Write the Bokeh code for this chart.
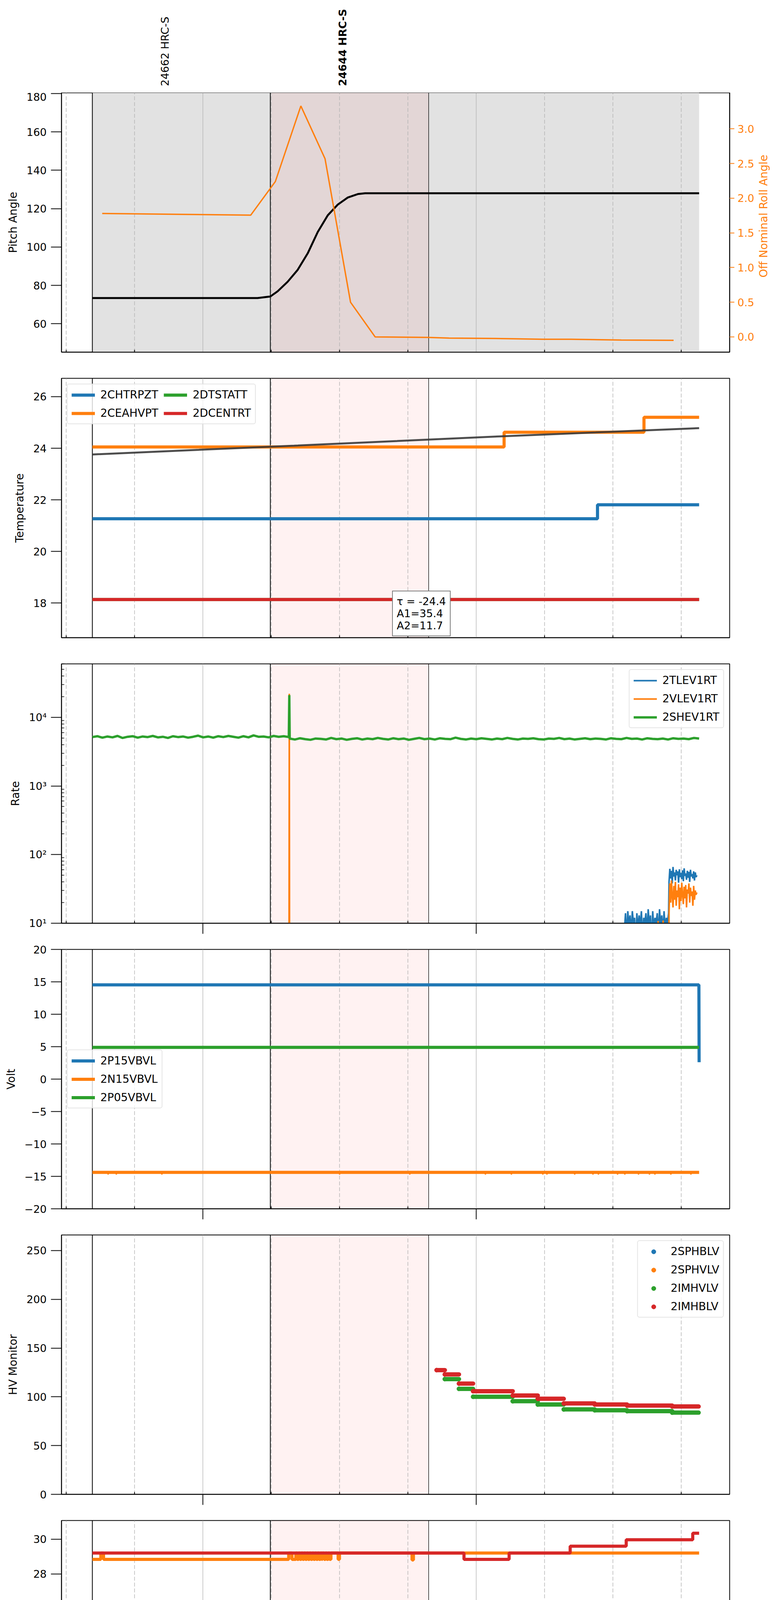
import math
import numpy as np
from bokeh.plotting import figure
from bokeh.layouts import column, row
from bokeh.models import (Range1d, LinearAxis, FixedTicker, BoxAnnotation, Span, PrintfTickFormatter,
                          Legend, LegendItem)
from bokeh.core.properties import value
from bokeh.embed import file_html
from bokeh.resources import INLINE

# time is in minutes after 2020-09-29 20:00
quarter_ticks = [30, 45, 75, 90, 105, 135, 150, 165]
quarter_labels = ["30", "45", "15", "30", "45", "15", "30", "45"]
hour_ticks = [60, 120]
hour_labels = ["21h", "22h"]
date_label = "2020-09-29 (273)"

t_first, t_last = 35.74, 168.9
obs_edges = [35.74, 74.8, 109.54]
obs_shade = [75.0, 109.54]
obs_names = ["24662 HRC-S", "24644 HRC-S"]
obs_pos = [51.7, 90.7]

# pitch / roll
pitch_t = [35.74, 72.0, 74.8, 76.4, 78.6, 80.8, 83.0, 85.2, 87.4, 89.6, 91.8, 94.0, 95.6, 168.9]
pitch = [73.4, 73.4, 74.2, 76.9, 81.9, 88.1, 96.7, 107.8, 116.5, 122.1, 125.8, 127.6, 128.0, 128.0]
roll_t = [37.9, 70.5, 75.9, 81.5, 86.8, 92.4, 97.8, 109.3, 114.0, 125.5, 134.6, 140.8, 151.8, 163.3]
roll = [1.78, 1.756, 2.24, 3.33, 2.57, 0.50, 0.0, -0.007, -0.017, -0.024, -0.034, -0.034, -0.045, -0.05]
pitch_ticks = [60, 80, 100, 120, 140, 160, 180]
roll_ticks = [0.0, 0.5, 1.0, 1.5, 2.0, 2.5, 3.0]
roll_label = "Off Nominal Roll Angle"

# temperature
temp_names = ["2CHTRPZT", "2CEAHVPT", "2DTSTATT", "2DCENTRT"]
chtrpzt_t = [35.74, 146.6, 168.9]
chtrpzt = [21.27, 21.81, 21.81]
ceahvpt_t = [35.74, 126.1, 156.8, 168.9]
ceahvpt = [24.05, 24.62, 25.2, 25.2]
dtstatt_t = [35.74, 168.9]
dtstatt = [18.14, 18.14]
dcentrt_t = [35.74, 168.9]
dcentrt = [18.14, 18.14]
fit_t = [35.74, 80.0, 125.0, 168.9]
fit = [23.76, 24.10, 24.46, 24.78]
fit_lines = ["\u03c4 = -24.4", "A1=35.4", "A2=11.7"]
temp_ticks = [18, 20, 22, 24, 26]

# rates
rate_names = ["2TLEV1RT", "2VLEV1RT", "2SHEV1RT"]
shev_pre = [5150, 5300, 5050, 5250, 5100, 5350, 5000, 5200, 5300, 5050, 5250, 5150, 5350, 5100, 5200, 5000,
            5300, 5150, 5250, 5050, 5200, 5400, 5100, 5250, 5050, 5300, 5150, 5350, 5200, 5050, 5300, 5100,
            5450, 5200, 5250, 5100, 5350, 5200, 5300, 5150]
shev_spike = 21000
shev_post = [4900, 4750, 4950, 4800, 4700, 4900, 4850, 4750, 5000, 4800, 4900, 4700, 4850, 4950, 4750, 4900,
             4800, 5000, 4850, 4750, 4950, 4800, 4900, 4700, 4850, 5000, 4800, 4900, 4750, 4950, 4850, 4800,
             5050, 4850, 4750, 4900, 4800, 4950, 4850, 4750, 4900, 4800, 5000, 4850, 4750, 4900, 4850, 4950,
             4800, 4750, 4900, 4850, 5000, 4800, 4900, 4750, 4850, 4950, 4800, 4900, 4850, 4750, 4950, 4850,
             4800, 5000, 4850, 4900, 4750, 4950, 4850, 4800, 4900, 4750, 4950, 4850, 4900, 4800, 5000, 4900]
tlev_low = [8, 14, 6, 15, 9, 13, 7, 15, 10, 12, 5, 14, 8, 13, 9, 15, 6, 12, 10, 14,
            7, 16, 9, 13, 5, 15, 8, 12, 10, 14, 6, 16, 9, 13, 7, 15, 8, 12, 10, 14]
tlev_high = [40, 62, 45, 58, 38, 66, 48, 55, 42, 60, 50, 57, 39, 61, 47, 54, 44, 59,
             41, 63, 49, 53, 43, 58, 46, 56, 40, 60, 48, 52, 45, 57, 42, 55, 47, 50]
vlev_t = [35.74, 78.9, 78.96, 79.02, 159.8, 159.9, 160.0, 160.9, 161.0, 161.1, 162.25]
vlev = [3, 3, 22000, 3, 3, 10.8, 3, 3, 11, 3, 3]
vlev_high = [14, 38, 20, 42, 25, 17, 35, 22, 40, 18, 30, 24, 37, 16, 33, 21, 39, 26,
             19, 34, 23, 36, 17, 31, 27, 38, 20, 33, 25, 29, 18, 35, 22, 30, 26, 28]
rate_ticks = [10, 100, 1000, 10000]
rate_tick_labels = ["10\u00b9", "10\u00b2", "10\u00b3", "10\u2074"]
rate_minor = [20, 30, 40, 50, 60, 70, 80, 90, 200, 300, 400, 500, 600, 700, 800, 900,
              2000, 3000, 4000, 5000, 6000, 7000, 8000, 9000, 20000, 30000, 40000, 50000, 60000]

# voltages
volt_names = ["2P15VBVL", "2N15VBVL", "2P05VBVL"]
p15_t = [35.74, 168.85, 168.9]
p15 = [14.53, 14.53, 2.6]
n15_t = [35.74, 168.9]
n15 = [-14.39, -14.39]
n15_dip_t = [39.2, 41.0, 51.0, 90.0, 105.4, 122.0, 127.7, 134.6, 135.5, 141.6, 145.6, 146.8,
             151.0, 152.6, 155.6, 158.0, 159.2, 162.7, 167.1]
n15_dip = -14.62
p05_t = [35.74, 168.9]
p05 = [4.9, 4.9]
volt_ticks = [-20, -15, -10, -5, 0, 5, 10, 15, 20]

# HV monitors (2SPHBLV and 2SPHVLV have no samples in view)
hv_names = ["2SPHBLV", "2SPHVLV", "2IMHVLV", "2IMHBLV"]
imhblv_t = [111.3, 113.1, 116.2, 119.3, 128.0, 133.5, 139.2, 146.0, 153.1, 163.0, 168.8]
imhblv = [127.4, 123.0, 113.6, 105.8, 101.4, 98.0, 93.2, 92.1, 91.0, 90.1]
imhvlv_t = [113.1, 116.2, 119.3, 128.0, 133.5, 139.2, 146.0, 153.1, 163.0, 168.8]
imhvlv = [118.2, 108.2, 100.1, 95.5, 92.1, 87.1, 86.2, 85.3, 83.8]
hv_ticks = [0, 50, 100, 150, 200, 250]

# detector temperatures
det_names = ["2SPINATM", "2SPHVATM", "2IMINATM", "2IMHVATM"]
spinatm_t = [35.74, 168.9]
spinatm = [17.63, 17.63]
sphvatm_t = [35.74, 37.6, 38.2, 78.83, 79.54, 80.4, 80.7, 81.0, 81.3, 81.6, 81.9, 82.2, 82.5, 82.8, 83.1,
             83.4, 83.7, 84.0, 84.3, 84.6, 84.9, 85.2, 85.5, 85.8, 86.11, 86.23, 86.6, 86.9, 87.2, 87.5,
             87.8, 88.1, 89.68, 89.97, 105.9, 106.2, 168.9]
sphvatm = [28.83, 29.2, 28.83, 29.2, 28.83, 29.2, 28.83, 29.2, 28.83, 29.2, 28.83, 29.2, 28.83, 29.2, 28.83,
           29.2, 28.83, 29.2, 28.83, 29.2, 28.83, 29.2, 28.83, 29.2, 28.83, 29.2, 28.83, 29.2, 28.83, 29.2,
           28.83, 29.2, 28.83, 29.2, 28.8, 29.2, 29.2]
iminatm_t = [35.74, 156.2, 156.5, 156.9, 157.3, 157.8, 158.2, 158.7, 159.1, 159.7, 168.9]
iminatm = [18.27, 18.93, 18.27, 18.93, 18.27, 18.93, 18.27, 18.93, 18.27, 18.93, 18.93]
imhvatm_t = [35.74, 117.3, 127.2, 140.6, 152.9, 167.5, 168.9]
imhvatm = [29.2, 28.83, 29.2, 29.59, 29.96, 30.34, 30.34]
det_ticks = [18, 20, 22, 24, 26, 28, 30]

# FEA temperatures
fea_names = ["2FHTRMZT", "2FRADPYT", "2FEPRATM", "2FE00ATM"]
fhtrmzt_t = [35.74, 98.9, 155.4, 168.9]
fhtrmzt = [19.67, 20.20, 20.70, 20.70]
fradpyt_t = [35.74, 95.4, 112.1, 137.6, 168.9]
fradpyt = [14.77, 15.23, 15.70, 16.18, 16.18]
fepratm_t = [35.74, 123.0, 123.3, 123.6, 123.9, 124.2, 168.9]
fepratm = [21.68, 22.40, 21.68, 22.40, 21.68, 22.40, 22.40]
fe00atm_t = [35.74, 133.0, 168.8, 168.9]
fe00atm = [20.47, 20.77, 20.15, 20.15]
fea_ticks = [14, 16, 18, 20, 22]

C = ["#1f77b4", "#ff7f0e", "#2ca02c", "#d62728"]
FONT = "DejaVu Sans"
W = 1984
FRAME_H = 664
HEAD_H = 237
GRID = "#b5b5b5"
x_range = Range1d(28.97, 175.6)


def panel(ylabel, yr, yticks, top=33, bottom=34, hour_out=27, minutes=False, ytype="linear",
          yminor=None, ylabels=None, width=W, right=116):
    p = figure(width=width, height=top + FRAME_H + bottom, x_range=x_range, y_range=Range1d(*yr),
               y_axis_type=ytype, output_backend="svg", toolbar_location=None,
               min_border_left=157, min_border_right=right, min_border_top=top, min_border_bottom=bottom)
    p.outline_line_color = "black"
    p.outline_line_width = 2
    p.ygrid.visible = False
    g = p.xgrid[0]
    g.ticker = FixedTicker(ticks=quarter_ticks, minor_ticks=hour_ticks)
    g.grid_line_color = GRID
    g.grid_line_dash = "10 5"
    g.grid_line_width = 1.5
    g.minor_grid_line_color = GRID
    g.minor_grid_line_width = 1.4
    ax = p.xaxis[0]
    ax.axis_line_width = 2
    ax.axis_line_color = "black"
    if minutes:
        # quarter hours labelled, hours as long outer ticks
        ax.ticker = FixedTicker(ticks=quarter_ticks, minor_ticks=hour_ticks)
        ax.major_tick_in = 6
        ax.major_tick_out = 0
        ax.major_tick_line_width = 2
        ax.major_tick_line_color = "black"
        ax.minor_tick_in = 0
        ax.minor_tick_out = hour_out
        ax.minor_tick_line_width = 2
        ax.minor_tick_line_color = "black"
        ax.major_label_overrides = dict(zip(quarter_ticks, quarter_labels))
        ax.major_label_text_font = FONT
        ax.major_label_text_font_size = "17px"
        ax.major_label_text_color = "black"
        ax.major_label_standoff = 4
    else:
        # no labels: quarter hours as short inner ticks only
        ax.ticker = FixedTicker(ticks=[], minor_ticks=quarter_ticks)
        ax.major_tick_line_color = None
        ax.minor_tick_in = 6
        ax.minor_tick_out = 0
        ax.minor_tick_line_width = 2
        ax.minor_tick_line_color = "black"
        if hour_out:
            ah = LinearAxis(ticker=FixedTicker(ticks=[], minor_ticks=hour_ticks))
            ah.axis_line_color = None
            ah.major_tick_line_color = None
            ah.minor_tick_in = 0
            ah.minor_tick_out = hour_out
            ah.minor_tick_line_width = 2
            ah.minor_tick_line_color = "black"
            p.add_layout(ah, "below")
    ay = p.yaxis[0]
    ay.ticker = FixedTicker(ticks=yticks, minor_ticks=yminor or [])
    if ylabels:
        ay.major_label_overrides = dict(zip(yticks, ylabels))
    ay.axis_label = ylabel
    ay.axis_line_width = 2
    ay.axis_line_color = "black"
    ay.major_tick_in = 0
    ay.major_tick_out = 27
    ay.major_tick_line_width = 2
    ay.major_tick_line_color = "black"
    ay.minor_tick_in = 7
    ay.minor_tick_out = 0
    ay.minor_tick_line_width = 1.5
    ay.minor_tick_line_color = "black"
    ay.major_label_standoff = 11
    ay.major_label_text_font = FONT
    ay.major_label_text_font_size = "27px"
    ay.major_label_text_color = "black"
    ay.axis_label_text_font = FONT
    ay.axis_label_text_font_size = "28px"
    ay.axis_label_text_font_style = "normal"
    ay.axis_label_text_color = "black"
    ay.axis_label_standoff = 15
    return p


def marks(p, pink=True):
    if pink:
        p.add_layout(BoxAnnotation(left=obs_shade[0], right=obs_shade[1], fill_color="red",
                                   fill_alpha=0.05, line_color=None, level="image"))
    for i, t in enumerate(obs_edges):
        p.add_layout(Span(location=t, dimension="height", line_color="black",
                          line_width=1.3 if i == 2 else 2, level="underlay"))


def style_legend(lg, loc, glyph_w=60):
    lg.location = loc
    lg.margin = 14
    lg.padding = 10
    lg.spacing = 14
    lg.label_standoff = 14
    lg.glyph_width = glyph_w
    lg.glyph_height = 28
    lg.label_text_font = FONT
    lg.label_text_font_size = "28px"
    lg.label_text_color = "black"
    lg.border_line_color = "#cccccc"
    lg.border_line_width = 2
    lg.background_fill_alpha = 0.8
    if hasattr(lg, "border_radius"):
        lg.border_radius = 6
    return lg


# header with observation names
hdr = figure(width=W, height=HEAD_H, x_range=x_range, y_range=Range1d(0, HEAD_H), output_backend="svg",
             toolbar_location=None, x_axis_location=None, y_axis_location=None,
             min_border_left=157, min_border_right=116, min_border_top=0, min_border_bottom=0)
hdr.grid.visible = False
hdr.outline_line_color = None
for name, pos, st in zip(obs_names, obs_pos, ["normal", "bold"]):
    hdr.text(x=[pos], y=[17], text=[name], angle=math.pi / 2, text_align=value("left"),
             text_baseline=value("middle"), text_font=value(FONT), text_font_size=value("27px"),
             text_font_style=value(st), text_color="black")

# 1: pitch and roll
RB1 = 70
p1 = panel("Pitch Angle", (45.2, 180.4), pitch_ticks, top=0, hour_out=0, width=1868 + RB1, right=RB1)
p1.add_layout(BoxAnnotation(left=t_first, right=t_last, fill_color="#e2e2e2", fill_alpha=1,
                            line_color=None, level="image"))
marks(p1)
p1.extra_y_ranges = {"roll": Range1d(-0.22, 3.52)}
ar = LinearAxis(y_range_name="roll", ticker=FixedTicker(ticks=roll_ticks),
                formatter=PrintfTickFormatter(format="%.1f"))
ar.axis_line_width = 2
ar.axis_line_color = "black"
ar.major_tick_in = 0
ar.major_tick_out = 12
ar.major_tick_line_width = 2
ar.major_tick_line_color = C[1]
ar.minor_tick_line_color = None
ar.major_label_text_color = C[1]
ar.major_label_text_font = FONT
ar.major_label_text_font_size = "27px"
ar.major_label_standoff = 8
p1.add_layout(ar, "right")
p1.line(pitch_t, pitch, color="black", line_width=5)
p1.line(roll_t, roll, color=C[1], line_width=3.5, y_range_name="roll")
side_w = W - (1868 + RB1)
side_h = FRAME_H + 34
side = figure(width=side_w, height=side_h, x_range=Range1d(0, side_w), y_range=Range1d(0, side_h),
              output_backend="svg", toolbar_location=None, x_axis_location=None, y_axis_location=None,
              min_border=0)
side.grid.visible = False
side.outline_line_color = None
side.text(x=[17], y=[side_h - FRAME_H / 2], text=[roll_label], angle=math.pi / 2, text_align=value("center"),
          text_baseline=value("middle"), text_font=value(FONT), text_font_size=value("28px"),
          text_color=C[1])

# 2: temperature
p2 = panel("Temperature", (16.66, 26.71), temp_ticks, hour_out=0)
marks(p2)
p2.step(chtrpzt_t, chtrpzt, mode="after", color=C[0], line_width=8, legend_label=temp_names[0])
p2.step(ceahvpt_t, ceahvpt, mode="after", color=C[1], line_width=8, legend_label=temp_names[1])
p2.step(dtstatt_t, dtstatt, mode="after", color=C[2], line_width=8, legend_label=temp_names[2])
p2.step(dcentrt_t, dcentrt, mode="after", color=C[3], line_width=8, legend_label=temp_names[3])
p2.line(fit_t, fit, color="#3a3a3a", line_width=5, alpha=0.9)
lg2 = style_legend(p2.legend[0], "top_left")
lg2.ncols = 2
dummy = p2.line([], [], line_alpha=0)
fit_box = Legend(items=[LegendItem(label=s, renderers=[dummy]) for s in fit_lines],
                 location=(847, 3), glyph_width=0, glyph_height=30, label_height=30, label_standoff=0,
                 spacing=0, padding=10, margin=0, label_text_font=FONT, label_text_font_size="27px",
                 label_text_color="black", border_line_color="black", border_line_width=2,
                 background_fill_color="white", background_fill_alpha=1)
p2.add_layout(fit_box)

# 3: rates
p3 = panel("Rate", (10, 60000), rate_ticks, ytype="log", yminor=rate_minor, ylabels=rate_tick_labels)
marks(p3)
tl_t = [35.74, 152.4] + list(np.linspace(152.5, 162.2, len(tlev_low))) + list(np.linspace(162.3, 168.4, len(tlev_high)))
tl_v = [2, 2] + tlev_low + tlev_high
p3.line(tl_t, tl_v, color=C[0], line_width=4, legend_label=rate_names[0])
vl_t = vlev_t + list(np.linspace(162.3, 168.4, len(vlev_high)))
p3.line(vl_t, vlev + vlev_high, color=C[1], line_width=4, legend_label=rate_names[1])
sh_t = list(np.linspace(t_first, 78.85, len(shev_pre))) + [78.96] + list(np.linspace(79.05, t_last, len(shev_post)))
p3.line(sh_t, shev_pre + [shev_spike] + shev_post, color=C[2], line_width=6, legend_label=rate_names[2])
style_legend(p3.legend[0], "top_right")

# 4: voltages
p4 = panel("Volt", (-20, 20), volt_ticks)
marks(p4)
p4.line(p15_t, p15, color=C[0], line_width=8, legend_label=volt_names[0])
p4.line(n15_t, n15, color=C[1], line_width=8, legend_label=volt_names[1])
p4.segment(x0=n15_dip_t, y0=[n15[0]] * len(n15_dip_t), x1=n15_dip_t, y1=[n15_dip] * len(n15_dip_t),
           color=C[1], line_width=4, line_cap="round")
p4.line(p05_t, p05, color=C[2], line_width=8, legend_label=volt_names[2])
style_legend(p4.legend[0], "left")

# 5: HV monitors
p5 = panel("HV Monitor", (0, 266), hv_ticks)
marks(p5)
p5.scatter([np.nan], [np.nan], size=11, color=C[0], legend_label=hv_names[0])
p5.scatter([np.nan], [np.nan], size=11, color=C[1], legend_label=hv_names[1])
p5.segment(x0=imhvlv_t[:-1], y0=imhvlv, x1=imhvlv_t[1:], y1=imhvlv, color=C[2], line_width=11, line_cap="round")
p5.scatter(imhvlv_t[:-1], imhvlv, size=11, color=C[2], legend_label=hv_names[2])
p5.segment(x0=imhblv_t[:-1], y0=imhblv, x1=imhblv_t[1:], y1=imhblv, color=C[3], line_width=11, line_cap="round")
p5.scatter(imhblv_t[:-1], imhblv, size=11, color=C[3], legend_label=hv_names[3])
style_legend(p5.legend[0], "top_right")

# 6: detector temperatures
p6 = panel("Detector Temp", (16.14, 31.07), det_ticks)
marks(p6)
p6.step(spinatm_t, spinatm, mode="after", color=C[0], line_width=8, legend_label=det_names[0])
p6.step(sphvatm_t, sphvatm, mode="after", color=C[1], line_width=8, legend_label=det_names[1])
p6.step(iminatm_t, iminatm, mode="after", color=C[2], line_width=8, legend_label=det_names[2])
p6.step(imhvatm_t, imhvatm, mode="after", color=C[3], line_width=8, legend_label=det_names[3])
style_legend(p6.legend[0], "right")

# 7: FEA temperatures
p7 = panel("FEA Temp", (13.25, 23.9), fea_ticks, bottom=100, minutes=True)
marks(p7)
p7.step(fhtrmzt_t, fhtrmzt, mode="after", color=C[0], line_width=8, legend_label=fea_names[0])
p7.step(fradpyt_t, fradpyt, mode="after", color=C[1], line_width=8, legend_label=fea_names[1])
p7.step(fepratm_t, fepratm, mode="after", color=C[2], line_width=8, legend_label=fea_names[2])
p7.step(fe00atm_t, fe00atm, mode="after", color=C[3], line_width=8, legend_label=fea_names[3])
style_legend(p7.legend[0], "right")
ah = LinearAxis(ticker=FixedTicker(ticks=hour_ticks), axis_label=date_label)
ah.major_label_overrides = dict(zip(hour_ticks, hour_labels))
ah.axis_line_color = None
ah.major_tick_line_color = None
ah.minor_tick_line_color = None
ah.major_tick_in = 0
ah.major_tick_out = 0
ah.major_label_standoff = 6
ah.major_label_text_font = FONT
ah.major_label_text_font_size = "27px"
ah.major_label_text_color = "black"
ah.axis_label_text_font = FONT
ah.axis_label_text_font_size = "30px"
ah.axis_label_text_font_style = "normal"
ah.axis_label_text_color = "black"
ah.axis_label_standoff = 6
p7.add_layout(ah, "below")

page = column(hdr, row(p1, side), p2, p3, p4, p5, p6, p7)
open("out.html", "w").write(file_html(page, INLINE))
